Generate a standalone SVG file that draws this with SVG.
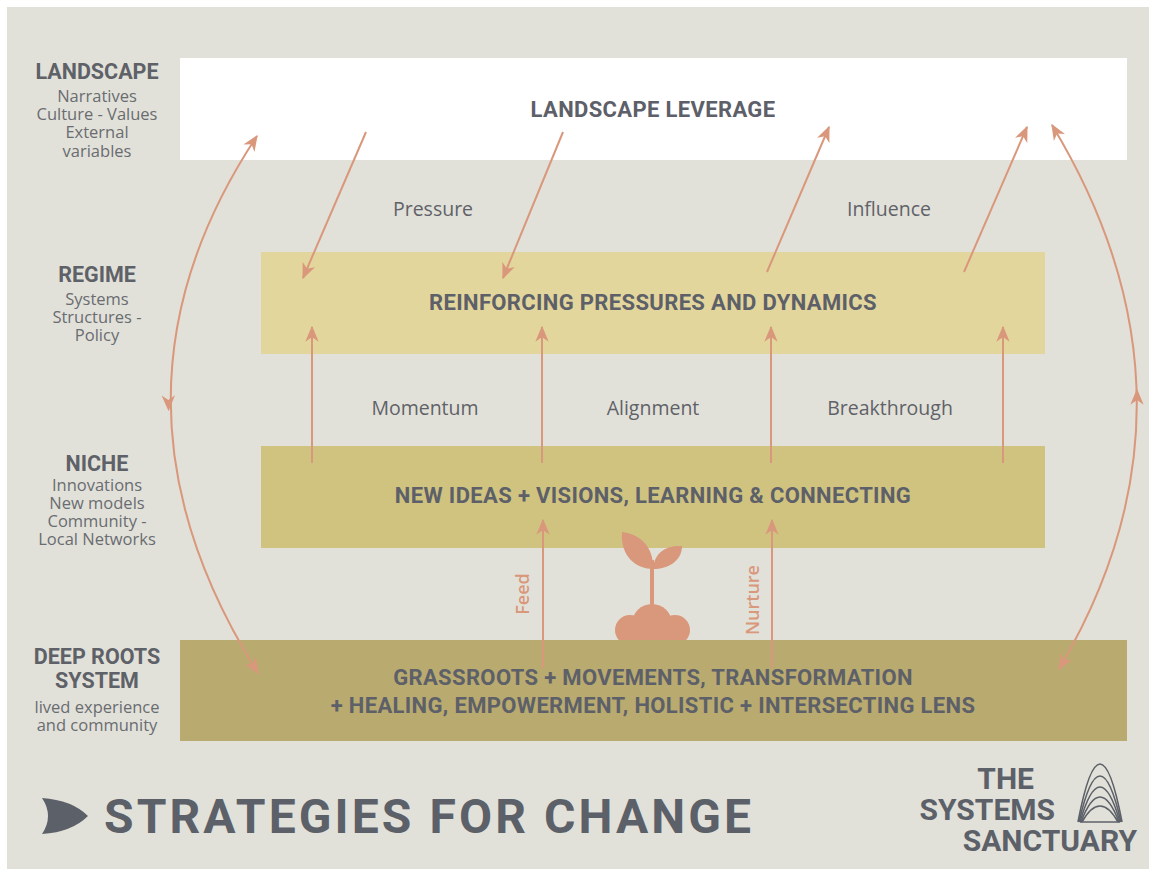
<svg xmlns="http://www.w3.org/2000/svg" width="1154" height="874" viewBox="0 0 1154 874">
<style>
.lvl{font-family:Roboto,"Liberation Sans",sans-serif;font-weight:700;font-size:21.5px;fill:#5e6168;text-anchor:middle}
.sub{font-family:"Open Sans","Liberation Sans",sans-serif;font-size:16.5px;fill:#696c71;text-anchor:middle}
.box{font-family:Roboto,"Liberation Sans",sans-serif;font-weight:700;font-size:22px;letter-spacing:0.35px;fill:#5d6068;text-anchor:middle}
.flow{font-family:"Open Sans","Liberation Sans",sans-serif;font-size:19.5px;fill:#5f6268;text-anchor:middle}
.vert{font-family:"Open Sans","Liberation Sans",sans-serif;font-weight:600;font-size:18px;fill:#d9977b;text-anchor:middle}
.ln{fill:none;stroke:#d9977b;stroke-width:2}
.logo{font-family:Roboto,"Liberation Sans",sans-serif;font-weight:700;font-size:30px;fill:#5c6068}
</style>
<defs>
<marker id="ah" viewBox="0 0 12 10" refX="11" refY="5" markerWidth="16" markerHeight="14" markerUnits="userSpaceOnUse" orient="auto-start-reverse">
<path d="M0,0 L12,5 L0,10 L3.5,5 z" fill="#d9977b"/>
</marker>
<clipPath id="soil"><rect x="600" y="590" width="110" height="50"/></clipPath>
</defs>
<rect x="0" y="0" width="1154" height="874" fill="#ffffff"/>
<rect x="7" y="7" width="1142" height="862" fill="#e2e1d9"/>

<g id="landscape">
<rect x="180" y="58" width="947" height="102" fill="#ffffff"/>
<text class="box" x="653" y="117">LANDSCAPE LEVERAGE</text>
</g>
<g id="regime">
<rect x="261" y="252" width="784" height="102" fill="#e3d69c"/>
<text class="box" x="653" y="310">REINFORCING PRESSURES AND DYNAMICS</text>
</g>
<g id="niche">
<rect x="261" y="446" width="784" height="102" fill="#d0c380"/>
<text class="box" x="653" y="503">NEW IDEAS + VISIONS, LEARNING &amp; CONNECTING</text>
</g>
<g id="plant" fill="#d9977b">
<g clip-path="url(#soil)">
<circle cx="652" cy="624" r="20"/>
<circle cx="630" cy="630" r="15"/>
<circle cx="675" cy="630" r="15"/>
</g>
<rect x="650" y="560" width="4" height="50"/>
<path d="M653,569 C637,569 620,557 622,532 C640,534 654,547 653,569 z"/>
<path d="M653,569 C654,552 667,545 682,546 C682,561 668,569 653,569 z"/>
</g>
<g id="deeproots">
<rect x="180" y="640" width="947" height="101" fill="#b9aa6f"/>
<text class="box" x="653" y="685">GRASSROOTS + MOVEMENTS, TRANSFORMATION</text>
<text class="box" x="653" y="713">+ HEALING, EMPOWERMENT, HOLISTIC + INTERSECTING LENS</text>
</g>

<g id="level-labels">
<text class="lvl" x="97" y="79">LANDSCAPE</text>
<text class="sub" x="97" y="102">Narratives</text>
<text class="sub" x="97" y="120">Culture - Values</text>
<text class="sub" x="97" y="138">External</text>
<text class="sub" x="97" y="157">variables</text>
<text class="lvl" x="97" y="282">REGIME</text>
<text class="sub" x="97" y="305">Systems</text>
<text class="sub" x="97" y="323">Structures -</text>
<text class="sub" x="97" y="341">Policy</text>
<text class="lvl" x="97" y="471">NICHE</text>
<text class="sub" x="97" y="491">Innovations</text>
<text class="sub" x="97" y="509">New models</text>
<text class="sub" x="97" y="527">Community -</text>
<text class="sub" x="97" y="545">Local Networks</text>
<text class="lvl" x="97" y="664">DEEP ROOTS</text>
<text class="lvl" x="97" y="688">SYSTEM</text>
<text class="sub" x="97" y="713">lived experience</text>
<text class="sub" x="97" y="731">and community</text>
</g>

<g id="connectors">
<path class="ln" d="M366,132 L303,278" marker-end="url(#ah)"/>
<path class="ln" d="M563,132 L503,278" marker-end="url(#ah)"/>
<path class="ln" d="M767,272 L829,127" marker-end="url(#ah)"/>
<path class="ln" d="M964,272 L1027,127" marker-end="url(#ah)"/>
<path class="ln" d="M312,463 L312,327" marker-end="url(#ah)"/>
<path class="ln" d="M542,463 L542,327" marker-end="url(#ah)"/>
<path class="ln" d="M771,463 L771,327" marker-end="url(#ah)"/>
<path class="ln" d="M1003,463 L1003,327" marker-end="url(#ah)"/>
<path class="ln" d="M543,668 L543,520" marker-end="url(#ah)"/>
<path class="ln" d="M772,668 L772,520" marker-end="url(#ah)"/>
<path class="ln" d="M257,136 Q84,397 258,673" marker-start="url(#ah)" marker-end="url(#ah)"/>
<path d="M168.3,396 L168.6,410" fill="none" stroke="none" marker-end="url(#ah)"/>
<path class="ln" d="M1052,125 Q1218,400 1059,669" marker-start="url(#ah)" marker-end="url(#ah)"/>
<path d="M1137,404 L1137,390" fill="none" stroke="none" marker-end="url(#ah)"/>
</g>

<g id="flow-labels">
<text class="flow" x="433" y="216">Pressure</text>
<text class="flow" x="889" y="216">Influence</text>
<text class="flow" x="425" y="415">Momentum</text>
<text class="flow" x="653" y="415">Alignment</text>
<text class="flow" x="890" y="415">Breakthrough</text>
<text class="vert" transform="translate(529,594) rotate(-90)">Feed</text>
<text class="vert" transform="translate(759,600) rotate(-90)">Nurture</text>
</g>

<g id="title">
<path d="M42,798 Q72,800 88,816 Q72,832 42,834 Q54,816 42,798 z" fill="#5c6068"/>
<text x="104" y="833" font-family="Roboto,'Liberation Sans',sans-serif" font-weight="700" font-size="48" letter-spacing="3.1" fill="#5c6068">STRATEGIES FOR CHANGE</text>
</g>

<g id="logo">
<text class="logo" x="1034" y="789" text-anchor="end">THE</text>
<text class="logo" x="1055" y="820" text-anchor="end">SYSTEMS</text>
<text class="logo" x="1137" y="851" text-anchor="end">SANCTUARY</text>
<g fill="none" stroke="#5c6068" stroke-width="1.6">
<path d="M1078,822 Q1100,706 1122,822"/>
<path d="M1079,822 Q1100,730 1121,822"/>
<path d="M1080,822 Q1100,752 1120,822"/>
<path d="M1081,822 Q1100,772 1119,822"/>
<path d="M1082,822 Q1100,790 1118,822"/>
<path d="M1080,822 L1120,822"/>
</g>
</g>
</svg>
